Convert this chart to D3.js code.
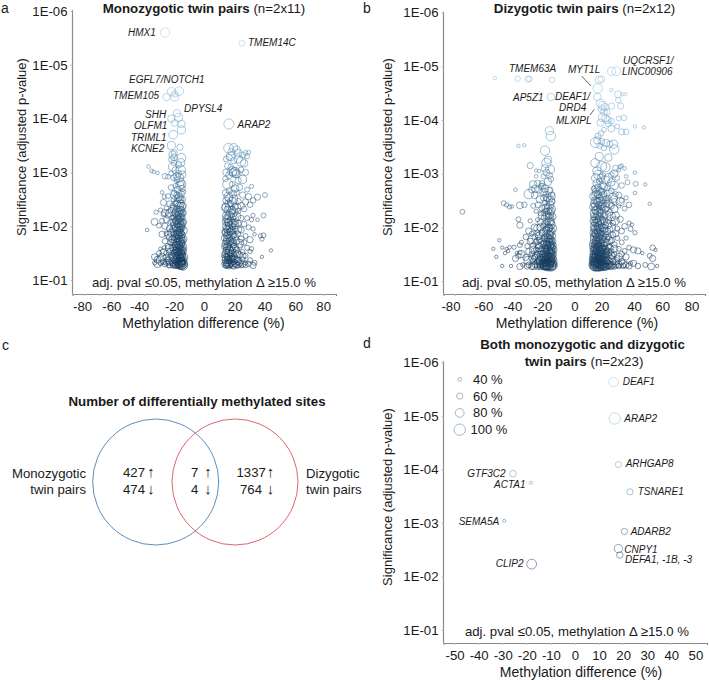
<!DOCTYPE html>
<html>
<head>
<meta charset="utf-8">
<script src="https://d3js.org/d3.v7.min.js"></script>
<style>
body { margin: 0; background: #fff; }
text { font-family: "Liberation Sans", Arial, sans-serif; fill: #1a1a1a; }
</style>
</head>
<body>
<svg id="fig" width="709" height="680"></svg>
<script>
"use strict";

// sites: [methylation difference %, -log10(adj. p), methylation size %]
var monoSites = [
[-26,5.6,85],[25.5,5.4,57],[-21.7,4.5,75],[-16.5,4.51,80],[-19.5,4.46,62],[-25,4.4,70],[-19.5,4.4,75],
[-18,4.1,70],[-21.7,4,70],[-17,4.02,75],[-19.5,3.92,65],[-15,3.9,70],[-15,3.79,75],[-20.5,3.7,80],[-21.7,3.5,75],[-16,3.47,60],[16.8,3.9,90],
[-21,3.33,70],[-20,3.28,65],[-21.5,3.24,60],[-15,3.27,80],[-20,3.18,55],[-21,3.1,75],[-17,3.14,60],[-15.5,3.05,85],[-19,3.04,65],[-22,2.98,50],
[-37,3.11,40],[-35,3.03,40],[-33.5,3.01,40],[-31,2.99,40],[-26,2.93,55],[-24,2.92,50],[-17,2.98,60],[-14.5,2.96,70],[-20,2.9,60],[-18,2.86,55],[-15.5,2.82,70],
[-16,2.76,75],[-19,2.75,50],[-22,2.72,55],[-14.5,2.7,60],[-17.5,2.68,65],[-13.8,2.64,50],[-20,2.62,55],[-15.5,2.6,70],[-28,2.63,40],[-26.5,2.55,45],[-24,2.56,50],
[-18,2.58,60],[-16.5,2.54,70],[-14.5,2.5,65],[-20,2.5,55],[-27,2.44,60],[-23,2.42,55],[-17,2.44,75],[-15.5,2.42,70],[-19,2.42,55],[-14,2.38,65],[-21,2.38,50],
[-25,2.33,50],[-16.5,2.36,80],[-18,2.33,60],[-32,2.26,45],[-29,2.3,45],[-22,2.3,55],[-15,2.3,65],[-17,2.27,70],[-19.5,2.24,65],[-13.8,2.25,60],[-27,2.22,50],
[-24,2.2,55],[-16,2.2,80],[-18,2.18,70],[-14.5,2.16,60],[-21,2.16,50],[-17,2.12,70],[-15.5,2.1,65],[-19,2.1,60],[-33,2.08,65],[-28,2.1,50],[-25,2.12,60],[-22.5,2.08,50],
[-13.8,2.08,65],[-16.5,2.06,75],[-18,2.04,60],[-20.5,2.03,55],[-15,2.02,70],[-30,2.01,50],[-26,2,60],[-17,1.98,70],[-14.5,1.97,60],[-19,1.97,65],[-23,1.96,60],
[-16,1.94,60],[-18,1.92,70],[-21,1.92,50],[-13.5,1.92,70],[-15.5,1.88,65],[-17.5,1.88,70],[-38,1.93,40],[-25,1.87,50],[-28,1.85,60],[-20,1.86,55],[-14.5,1.84,60],
[-16.5,1.82,70],[-18.5,1.82,55],[-23,1.8,60],[-15,1.78,65],[-17.5,1.77,70],[-13.8,1.76,70],[-20,1.75,60],[-26,1.72,55],[-22,1.7,60],[-16,1.72,70],[-18.5,1.7,65],
[-14.5,1.68,60],[-19.5,1.65,55],[-16.5,1.65,70],[-24,1.63,55],[-14,1.62,70],[-18,1.6,70],[-15.5,1.6,60],[-21,1.6,65],[-17,1.58,60],[-29,1.58,40],[-26.5,1.6,45],
[-19,1.55,60],[-15,1.55,70],[-13.8,1.54,65],[-16.5,1.53,65],[-22.5,1.53,60],[-18,1.51,65],[-25,1.5,55],[-20.5,1.5,60],[-15.5,1.49,70],[-30,1.5,50],[-14.5,1.47,65],
[-17,1.47,70],[-19,1.45,60],[-33,1.43,60],[-16,1.44,60],[-28,1.43,70],[-22,1.44,55],[-13.5,1.42,75],[-18,1.41,65],[-15,1.4,60],[-31,1.38,65],[-24,1.39,50],
[-20,1.38,60],[-16.5,1.37,65],[-14.5,1.35,70],[-27,1.34,55],[-18.5,1.34,60],[-23,1.33,60],[-15.5,1.33,70],[-21,1.31,55],[-17,1.3,65],[-13.8,1.3,80],[-19,1.28,60],
[-26,1.29,50],[-33,1.32,45],[-29,1.31,50],[-15,1.27,75],[-16.2,1.27,70],[-14,1.27,85],[-17.8,1.27,60],[-23.5,1.27,50],[-20.5,1.27,55],[-14.6,1.32,70],[-16,1.3,65],[-15.2,1.36,70],
[-14.5,1.5,60],[-16,1.62,60],[-17.5,1.52,65],[-15,1.7,65],[-18,1.77,60],[-16.5,1.92,65],[-15.5,2,70],[-17.5,2.16,60],[-16.5,2.25,75],[-15.5,1.43,70],[-17,1.36,60],
[-19.8,3.36,60],[-15.5,3.18,75],[-18,2.93,70],[-16.5,2.9,80],[-14.8,2.78,75],[-19.5,2.58,75],[-15.8,2.5,70],[-17.3,2.52,70],[-15.2,2.36,80],[-18.2,2.42,70],[-20.3,2.32,70],[-16,2.3,70],
[-18.5,2.26,75],[-14.8,2.24,70],[-17.2,2.2,65],[-15.7,2.16,70],[-19.7,2.16,60],[-23,2.25,70],[-26,2.25,65],[-16.4,2.13,65],[-18,2.1,70],[-20,2.08,70],[-14.6,2.06,70],[-17.3,2.03,65],
[-15.8,1.97,70],[-18.6,1.98,75],[-20.5,1.95,65],[-22,1.88,70],[-24,1.84,65],[-16.2,1.88,65],[-18.2,1.85,70],[-15,1.84,70],[-17,1.84,70],[-19.5,1.79,65],[-21,1.76,70],[-16.5,1.77,70],
[-14.5,1.74,65],[-17.5,1.72,65],[-20,1.7,65],[-15.5,1.66,70],[-17.2,1.65,70],[-18.8,1.63,70],[-23,1.58,75],[-27,1.52,65],[-20,1.56,65],[-16.2,1.57,65],[-14.5,1.58,70],[-17.8,1.55,70],
[-15.5,1.52,70],[-19.2,1.5,70],[-16.5,1.47,70],[-14.3,1.42,70],[-18,1.45,65],[-20.5,1.42,70],[-25,1.41,70],[-29,1.37,75],[-23,1.36,70],[-16,1.4,70],[-19,1.36,65],[-17.5,1.33,70],[-15,1.31,70],
[-13.8,1.36,70],[-16.8,1.29,70],[-18.5,1.28,70],[-20,1.31,70],[-22.5,1.28,60],[-25,1.33,60],[-31,1.3,70],[-14.6,1.28,80],[-15.6,1.29,80],[-15,1.34,70],
[20,3.46,75],[16.5,3.45,85],[18.5,3.38,65],[22,3.42,70],[23,3.36,70],[28,3.36,50],[30,3.37,45],[26,3.32,60],[29,3.3,50],[17,3.28,60],[15,3.25,55],[23,3.25,75],[20,3.22,60],
[27,3.17,70],[16,3.12,60],[18,3.1,55],[21,3.02,75],[19.5,3,70],[15,3,65],[22,2.98,80],[25,3.05,55],[28,3,60],[17,2.95,65],[14.5,2.88,55],[23,2.85,60],[26,2.87,75],
[16,2.78,90],[19,2.78,55],[21,2.7,70],[24,2.72,60],[32,2.74,45],[29,2.68,50],[17,2.66,60],[14.5,2.62,60],[19.5,2.6,70],[22,2.62,55],[26,2.58,60],[30,2.55,60],
[41,2.58,50],[36,2.54,60],[33,2.48,55],[17,2.52,70],[20,2.5,75],[15,2.48,65],[23,2.46,60],[28,2.45,60],[31,2.4,55],[25,2.38,65],[18,2.42,60],[14.5,2.36,70],[21,2.36,60],
[16,2.3,70],[19,2.3,70],[27,2.32,55],[23,2.28,55],[40,2.2,50],[33,2.2,45],[17,2.2,75],[15,2.2,70],[20,2.18,65],[25,2.15,55],[29,2.15,50],[36,2.12,40],[32,2.12,45],
[16,2.13,70],[18,2.1,70],[14.5,2.08,60],[21,2.08,60],[23,2.05,60],[27,2.04,55],[17,2.02,70],[15,2,70],[19,2,65],[30,1.98,50],[33,1.95,45],[21,1.95,55],[16,1.93,65],
[25,1.93,60],[18,1.9,70],[14,1.9,55],[23,1.86,55],[20,1.84,60],[15.5,1.83,65],[38,1.82,45],[40,1.83,50],[28,1.82,50],[34,1.85,40],[17,1.78,65],[13.8,1.78,60],[19,1.76,60],
[25,1.76,60],[39,1.76,45],[31,1.75,60],[22,1.73,65],[15,1.72,60],[27,1.7,55],[18,1.68,65],[20,1.65,60],[16,1.63,70],[14,1.62,60],[24,1.62,55],[29,1.6,50],[32,1.58,45],
[17,1.58,70],[22,1.56,60],[19,1.55,65],[15,1.55,60],[26,1.52,50],[31,1.53,45],[45,1.55,38],[21,1.5,65],[16.5,1.5,70],[18,1.47,60],[14,1.47,60],[24,1.47,60],[28,1.45,50],
[39,1.43,38],[20,1.43,65],[16,1.42,60],[22,1.38,60],[18,1.38,70],[14.5,1.37,65],[26,1.38,50],[31,1.37,50],[34,1.32,50],[20,1.34,60],[16,1.32,70],[24,1.32,60],[14.5,1.3,70],
[18,1.3,60],[22,1.28,60],[28,1.32,45],[17,1.27,65],[15,1.27,60],[20,1.27,70],[25,1.27,50],[30,1.3,55],[19,1.4,60],[17,1.36,60],[15.5,1.44,60],[17.5,1.9,65],[16.5,2.06,70],
[18,3.3,80],[25,3.2,85],[19,3.02,85],[20.5,3,85],[21.5,2.97,70],[16.5,2.55,80],[19,2.45,85],[22,2.35,75],[16.5,2.42,70],[17.5,2.35,80],[15,2.34,80],[18,2.24,75],[20,2.26,80],[22,2.18,75],
[15.5,2.14,75],[18.7,2.16,70],[16.5,2.08,70],[19.5,2.06,70],[21,2.02,70],[15.5,1.95,70],[17.2,1.96,70],[19,1.93,70],[23,1.94,70],[14.8,1.88,70],[16.5,1.86,70],[18.5,1.83,70],[21,1.8,65],
[15.7,1.77,70],[17.5,1.72,70],[19.5,1.7,70],[24,1.68,75],[14.7,1.67,70],[16.5,1.68,70],[18.2,1.62,75],[20.5,1.6,75],[15.5,1.6,70],[17.3,1.53,75],[19.2,1.5,70],[22.5,1.48,70],[26,1.45,65],
[15,1.5,70],[16.7,1.44,70],[18.5,1.42,70],[20.5,1.38,70],[14.7,1.42,70],[16.5,1.37,70],[18.7,1.33,70],[23,1.35,65],[15.2,1.33,70],[17,1.3,70],[19.5,1.29,70],[21,1.31,65],[15.8,1.29,70],[23,1.28,60],[28,1.28,55],[33,1.27,60],[26,1.3,65]
];

var dizSites = [
[-53,4.78,38],[-37.5,4.77,55],[-30.5,4.76,60],[-29.6,4.77,55],[-14.2,4.75,55],[-15,4.43,70],
[26.2,4.91,75],[29.4,4.91,80],[17.6,4.75,70],[19.2,4.76,65],[16.7,4.59,85],[16.5,4.43,70],[26,4.56,38],[30.5,4.48,65],[33.4,4.48,38],[35.7,4.48,38],[30.7,4.37,55],
[32.3,4.26,60],[26.2,4.26,60],[18.8,4.31,80],[20,4.27,75],[21.5,4.24,70],[19.5,4.2,70],[23,4.15,60],[21,4.15,65],[20,4.05,75],[22,4.03,70],[23.5,4,70],[26,3.98,55],
[31,4.03,50],[34.5,4.04,55],[18.5,3.95,65],[24,3.93,60],[30,3.88,50],[26,3.84,65],[33,3.78,60],[36,3.78,55],[42,3.88,38],[48,3.86,38],[21,3.82,50],[17,3.7,60],[19,3.75,55],
[16.5,3.62,70],[19.5,3.6,60],[22.5,3.57,70],[25,3.55,60],[27.5,3.55,75],[28,3.45,85],[21,3.48,55],[18,3.52,55],
[-16,3.8,75],[-15,3.7,85],[-19,3.43,85],[-37,3.52,38],[-33,3.53,38],[-29,3.15,60],[-19,3.1,70],[-18,3.02,65],[-16,2.97,60],[-20,2.95,50],[-23,3.05,38],[-25,3.06,38],
[24,3.3,70],[19.5,3.14,90],[29,3.1,60],[32,3.13,45],[31,3.07,45],[33,3.15,40],[35,3.1,40],[26,2.98,55],[17,2.98,80],[20,2.96,60],[42,3.02,38],
[-15,2.9,55],[-17,2.85,70],[-21,2.82,55],[-25,2.95,40],[36,2.95,40],[30,2.92,50],[22,2.88,75],[18,2.86,60],[16,2.82,70],[26,2.84,70],
[-27,2.8,70],[-24,2.82,60],[-21.5,2.77,50],[-28,2.7,60],[-23,2.7,65],[-19,2.72,70],[-15.5,2.7,55],[-30,2.62,85],[-26,2.6,65],[-18.5,2.62,55],[-13.8,2.62,45],[-39,2.7,40],[-18,2.53,50],
[37,2.84,50],[42.5,2.81,50],[33,2.78,55],[20,2.78,70],[17,2.74,65],[23,2.73,55],[14,2.72,50],[19,2.66,65],[26,2.68,55],[29,2.62,50],[31,2.6,60],[21,2.62,60],[15.5,2.6,75],[42,2.64,40],[49,2.8,38],[36,2.55,45],
[-16,2.52,60],[-14.2,2.48,60],[-19,2.46,50],[-23.5,2.42,60],[-27,2.4,50],[-33,2.42,55],[-36,2.41,65],[-47,2.45,50],[-45,2.42,45],[-43,2.38,45],[-41.5,2.39,40],[-15.5,2.42,70],[-17.5,2.4,55],[-21,2.36,60],
[24,2.55,55],[18,2.54,70],[16,2.5,65],[20,2.5,55],[28,2.48,60],[33,2.5,50],[38,2.42,55],[35,2.35,50],[31,2.4,45],[52,2.44,38],[23,2.44,60],[14.5,2.44,70],[17.5,2.42,65],[26,2.4,60],[20,2.38,70],[22,2.33,60],
[-75,2.29,50],[-18,2.3,60],[-15,2.3,70],[-22,2.26,50],[-25,2.3,45],[-16.5,2.2,65],[-19.5,2.18,55],[-13.8,2.2,65],[-37,2.15,50],[-24,2.14,45],[-29,2.12,45],[-15,2.1,70],[-17.5,2.1,60],[-22,2.1,60],[-36,2.04,60],[-26,2,65],[-20,2.03,55],[-15.5,2,60],[-17,1.97,75],[-13.6,1.98,70],
[15,2.32,70],[18,2.3,65],[25,2.28,60],[29,2.22,70],[16.5,2.22,70],[21,2.2,60],[14,2.2,60],[32,2.15,60],[24,2.14,60],[19,2.13,75],[17,2.1,65],[15,2.08,70],[27,2.08,55],[35,2.02,55],[38,2.08,45],[22,2.04,60],[20,2,70],[16.5,2,65],[30,1.98,50],[14,1.98,60],[25,1.96,60],
[39,1.97,50],[42,1.9,45],[40,2.05,40],[33,1.93,55],
[-30,1.93,60],[-28,1.88,50],[-24,1.9,55],[-21,1.9,60],[-18,1.88,65],[-15.5,1.86,70],[-13.8,1.84,60],[-26,1.83,55],[-32,1.82,55],[-19.5,1.8,65],[-17,1.8,70],[-14.8,1.76,65],[-22.5,1.77,55],[-29,1.74,60],[-35,1.72,45],[-25,1.72,60],
[17,1.92,70],[19,1.88,65],[15,1.87,70],[22,1.87,60],[27,1.86,55],[24,1.82,60],[14,1.83,65],[18,1.8,75],[20.5,1.78,70],[16,1.77,70],[30,1.8,50],[36,1.8,45],[26,1.75,60],[23,1.72,65],[15,1.7,65],[19,1.7,70],[17,1.7,70],[13.8,1.7,70],[33,1.72,50],[28,1.68,55],[21,1.66,65],
[-36,1.67,50],[-43,1.63,40],[-48,1.62,38],[-50,1.76,38],[-40,1.63,45],[-31,1.65,50],[-27,1.66,55],[-23,1.66,65],[-20,1.68,60],[-17.5,1.68,70],[-15.2,1.66,65],[-13.6,1.66,65],[-19,1.6,65],[-16.5,1.59,75],[-25,1.58,55],[-21.5,1.56,70],[-14.5,1.56,70],[-18,1.53,70],[-30,1.55,60],[-36,1.53,45],[-45,1.6,38],
[18,1.64,70],[16,1.62,70],[24,1.63,60],[20,1.6,70],[14.5,1.6,70],[31,1.6,50],[22,1.58,65],[17.5,1.56,75],[26,1.55,55],[19,1.54,70],[15.5,1.54,70],[38,1.62,50],[35,1.56,50],[41,1.58,60],[44,1.56,60],[54,1.62,55],[56,1.58,38],
[-46,1.52,40],[-44,1.56,38],[-38,1.52,40],[-28,1.5,55],[-24,1.5,65],[-20.5,1.5,65],[-16,1.5,75],[-13.8,1.5,70],[-18.5,1.46,70],[-15,1.46,70],[-22,1.44,60],[-26,1.44,60],[-32,1.44,60],[-35,1.5,70],[-37,1.47,55],[-39,1.42,60],[-54,1.6,38],[-52,1.45,38],
[21,1.5,70],[17,1.5,75],[14,1.5,70],[24,1.48,60],[28,1.5,55],[33,1.5,55],[19,1.46,70],[15.5,1.46,75],[22.5,1.44,65],[36,1.45,60],[30,1.42,55],[26,1.42,60],[47,1.52,38],[52,1.47,50],[54,1.42,60],[18,1.42,70],
[-48,1.28,38],[-42,1.28,38],[-34,1.3,45],[-30,1.3,55],[-27,1.37,60],[-24,1.36,60],[-20.5,1.38,65],[-17,1.38,75],[-14.5,1.38,70],[-19,1.33,70],[-22.5,1.32,65],[-15.5,1.33,75],[-13.5,1.33,70],[-17.8,1.3,75],[-25.5,1.3,60],[-28,1.27,60],[-36,1.27,60],
[20,1.38,75],[16,1.38,75],[13.8,1.38,75],[23,1.37,65],[27,1.36,60],[33,1.36,60],[41,1.33,60],[18,1.34,80],[21.5,1.32,70],[15,1.32,80],[25,1.31,60],[29,1.3,60],[38,1.28,60],[44,1.28,55],[39,1.33,45],[53,1.27,65],[57,1.28,38],[49,1.3,50],
[-14,1.28,75],[-16,1.28,80],[-18,1.27,70],[-20,1.28,70],[-22,1.27,65],[-24,1.27,60],[-15,1.27,85],[-17,1.27,80],[-19,1.27,70],[-13.8,1.42,70],[-16,1.42,75],[-18,1.42,70],[-15,1.54,70],[-17,1.62,70],[-16,1.72,70],
[14,1.28,80],[16,1.28,85],[18,1.27,80],[20,1.28,75],[22,1.27,70],[24,1.28,60],[26,1.27,60],[28,1.27,55],[31,1.28,55],[34,1.28,55],[15,1.27,85],[17,1.27,85],[19,1.27,80],[21,1.27,75],[23,1.27,65],
[14.5,1.34,80],[16.5,1.34,75],[19,1.36,75],[17,1.42,75],[15,1.42,75],[20.5,1.44,70],[16,1.56,70],[18.5,1.5,70],[15,1.62,75],[17,1.62,70],[19.5,1.62,65],[15.5,1.75,70],[17.5,1.76,70],[16,1.85,70],[18,1.98,70],[16,2.14,70],[18,2.2,70],[15,2.4,70],[16.5,2.36,65],[19,2.4,60],[15.5,2.66,70],[17,2.6,65],[18,1.4,75],[19,1.32,75],[17,1.32,80],[15,1.5,75],[16.5,1.68,70],[14,1.56,70],[22,1.5,65],[20,1.55,65],[23,1.56,60],[16,1.44,80],[21,1.4,70],[18,1.58,70],[14.5,1.44,75],
[-16,1.35,75],[-18,1.35,70],[-15,1.42,75],[-17,1.46,70],[-16,1.56,70],[-18,1.58,65],[-14.5,1.64,70],[-16,1.78,65],[-18,1.74,65],[-15.5,1.92,65],[-17,2.05,60],[-15,2.18,60],[-16.5,2.3,60],[-19,1.4,65],[-20,1.44,65],[-21,1.32,65],[-23,1.4,60],[-20,1.34,70],
[-18,3.2,85],[-17,3.26,70],[-15.5,3.08,80],[-21,2.76,65],[-20,2.66,70],[-25.5,2.72,70],[-16.5,2.68,70],[-14.5,2.58,70],[-17.5,2.55,70],[-15.3,2.5,75],[-19.8,2.55,65],[-22.5,2.52,70],[-18.5,2.36,70],[-16.8,2.34,75],[-15.8,2.25,75],[-14.4,2.34,70],[-17.8,2.22,70],[-19.2,2.28,65],[-21,2.22,70],[-16,2.12,75],[-18.8,2.06,70],[-14.6,2.05,70],[-22,2,70],[-24.2,1.98,70],[-16.4,2,70],[-18.2,1.95,70],[-20,1.9,75],[-14.6,1.92,70],[-23,1.84,70],[-16.5,1.86,75],[-27.5,1.78,80],[-18.7,1.8,70],[-15.7,1.78,70],[-21,1.72,75],[-13.8,1.74,65],[-24,1.75,65],[-17,1.72,75],[-19,1.68,75],[-15,1.69,75],[-22.8,1.62,75],[-27,1.58,70],[-16,1.66,75],[-18,1.64,75],[-20,1.6,75],[-14.8,1.6,75],[-17,1.56,80],[-19.5,1.53,75],[-23.5,1.55,70],[-15.8,1.52,80],[-13.7,1.58,75],[-21.5,1.48,75],[-17.5,1.48,80],[-25,1.46,70],[-14.6,1.48,80],[-19,1.42,80],[-16.7,1.44,80],[-22,1.38,75],[-27.5,1.42,65],[-30.5,1.38,75],[-15.5,1.38,80],[-17.5,1.35,80],[-20,1.3,75],[-13.8,1.37,80],[-24,1.32,70],[-16.5,1.31,85],[-19,1.29,80],[-22,1.3,70],[-26.5,1.28,70],[-15,1.3,85],[-13.6,1.29,80],[-31,1.28,60],[-18,1.3,85],[-17,1.3,85],[-16,1.36,85],[-18.5,1.38,80],
[15.2,3.58,90],[17.8,3.32,75],[15,3.2,80],[22,3.12,85],[16.2,3.05,75],[28,3,70],[24,2.92,80],[19,2.92,70],[15.5,2.92,80],[28,2.78,75],[21,2.76,70],[15.3,2.72,70],[18.2,2.68,70],[24,2.62,75],[16.8,2.62,70],[13.8,2.58,70],[20,2.58,75],[27,2.55,85],[32,2.48,75],[22.5,2.52,70],[18.5,2.48,75],[15,2.5,70],[17,2.46,75],[20.5,2.44,70],[24.5,2.44,75],[13.8,2.38,70],[16,2.32,75],[19,2.34,70],[22,2.38,75],[28,2.34,70],[17,2.26,80],[14.5,2.26,75],[19.5,2.26,75],[23,2.22,75],[26,2.2,75],[15.5,2.16,75],[18,2.14,80],[21,2.12,70],[28.5,2.12,75],[14,2.12,70],[16.5,2.08,75],[19,2.05,75],[23.5,2.05,75],[14.8,2.02,75],[17.5,2.03,75],[21,1.97,75],[26,2,75],[15.5,1.96,75],[17,1.95,75],[19,1.93,80],[23,1.93,70],[14,1.9,70],[15.8,1.89,75],[17.8,1.86,75],[20,1.84,80],[29,1.88,60],[22,1.8,75],[14.5,1.77,75],[17,1.82,80],[19,1.78,75],[24.5,1.76,70],[15.5,1.68,75],[18,1.72,80],[21,1.72,75],[14,1.64,75],[16.5,1.6,80],[19,1.58,80],[21.5,1.6,70],[25,1.62,65],[28,1.6,70],[15.5,1.58,75],[17.5,1.64,75],[14,1.44,75],[20,1.5,75],[24,1.54,70],[16,1.5,80],[18,1.52,80],[22.5,1.52,70],[15,1.4,85],[17.5,1.46,80],[19.5,1.42,80],[26,1.48,65],[31,1.45,70],[14.8,1.36,85],[17,1.36,85],[19,1.38,80],[21.5,1.36,75],[24,1.38,70],[29,1.37,70],[34,1.32,70],[16,1.33,90],[18,1.31,85],[20,1.32,85],[23,1.32,75],[27,1.3,65],[14,1.31,85],[15.5,1.29,90],[17,1.29,90],[19,1.3,85],[21,1.3,80],[25,1.29,70],[31,1.31,65],[36,1.3,60],[16.5,1.4,80],[18.5,1.44,80],[15.5,1.36,85],[17.5,1.33,85]
];

var bothSites = [
[16,5.63,85],[16.5,4.95,100],[18,4.09,60],[-25.8,3.92,63],[-18.3,3.75,35],[22.8,3.58,60],
[-29.4,3.04,35],[20.5,2.84,60],[18,2.52,75],[18.6,2.4,62],[-18,2.23,88]
];
var bothGenes = ["DEAF1","ARAP2","ARHGAP8","GTF3C2","ACTA1","TSNARE1","SEMA5A","ADARB2","CNPY1","DEFA1, -1B, -3","CLIP2"];

var legendSizes = [40, 60, 80, 100];
var pTicks = [1, 2, 3, 4, 5, 6];
var wideTicks = [-80, -60, -40, -20, 0, 20, 40, 60, 80];
var narrowTicks = [-50, -40, -30, -20, -10, 0, 10, 20, 30, 40, 50];
var vennMono = [427, 474], vennBoth = [7, 4], vennDiz = [1337, 764];

var svg = d3.select("#fig");

var sizeScale = d3.scaleLinear().domain([35, 100]).range([1.5, 5.7]);
// stroke goes from pale blue for the top hits to navy at the threshold
var colorScale = d3.scaleLinear().domain([1.27, 2.2, 3.2, 4.2, 5.6])
    .range(["#143a5e", "#2a5478", "#4f84aa", "#7fb3d6", "#a4cbe2"]);

function text(x, y, str, size, opts) {
    opts = opts || {};
    return svg.append("text").attr("x", x).attr("y", y).text(str)
        .style("font-size", size + "px")
        .style("font-style", opts.italic ? "italic" : null)
        .style("font-weight", opts.bold ? "bold" : null)
        .attr("text-anchor", opts.anchor || "start");
}

// builds one scatter panel, box = pixel frame of the axes
function panel(box, xDomain, xTicks, xMinor, sites, siteOpacity) {
    var x = d3.scaleLinear().domain(xDomain).range([box.left, box.right]);
    var y = d3.scaleLinear().domain([1, 6]).range([box.y1, box.y6]);

    var gx = svg.append("g").attr("transform", "translate(0," + box.bottom + ")")
        .call(d3.axisBottom(x).tickValues(xMinor).tickSize(2).tickPadding(6)
            .tickFormat(function (d) { return xTicks.indexOf(d) >= 0 ? d : ""; }));
    gx.select(".domain").attr("stroke", "#8a8a8a").attr("stroke-width", 1.2);
    gx.selectAll("line").attr("stroke", "#bbb");
    gx.selectAll("text").style("font-size", "13.2px")
        .attr("dx", function (d) { return xTicks.indexOf(d) >= 0 ? box.labelShift[xTicks.indexOf(d)] : 0; });

    var gy = svg.append("g").attr("transform", "translate(" + box.left + ",0)")
        .call(d3.axisLeft(y).tickValues(pTicks).tickSize(2).tickPadding(3)
            .tickFormat(function (d) { return "1E-0" + d; }));
    gy.select(".domain").attr("d", "M0," + box.bottom + "V" + (box.y6 - 1))
        .attr("stroke", "#8a8a8a").attr("stroke-width", 1.2);
    gy.selectAll("line").attr("stroke", "#bbb");
    gy.selectAll("text").style("font-size", "13.2px");

    svg.append("g").selectAll("circle").data(sites).enter().append("circle")
        .attr("cx", function (d) { return x(d[0]); })
        .attr("cy", function (d) { return y(d[1]); })
        .attr("r", function (d) { return sizeScale(d[2]); })
        .attr("fill", "none")
        .attr("stroke", function (d) { return colorScale(d[1]); })
        .attr("stroke-width", 0.75)
        .attr("stroke-opacity", siteOpacity);

    text(box.noteX, box.bottom - 7, "adj. pval \u22640.05, methylation \u0394 \u226515.0 %", 13.2, {anchor: "middle"});
    text(box.xLabelX, box.bottom + 34, "Methylation difference (%)", 14, {anchor: "middle"});
    svg.append("text").attr("transform", "translate(" + box.yLabelX + "," + box.yLabelY + ") rotate(-90)")
        .attr("text-anchor", "middle").style("font-size", "13px").text("Significance (adjusted p-value)");
    return {x: x, y: y};
}

panel({left: 72.5, right: 336, bottom: 294, y1: 280, y6: 11, noteX: 204, xLabelX: 203.5, yLabelX: 26, yLabelY: 147,
       labelShift: [-2.3, -3, -5, 0, 0, 1, 1, 2, 0]},
      [-88, 88.6], wideTicks, d3.range(-80, 81, 10), monoSites, 0.72);

panel({left: 443.5, right: 705, bottom: 294, y1: 281, y6: 12.7, noteX: 574, xLabelX: 577, yLabelX: 392, yLabelY: 147,
       labelShift: [-4.5, -1.3, -1.8, -1.3, 1.5, -1, 2, 0.7, 0.5]},
      [-87.8, 89.5], wideTicks, d3.range(-80, 81, 10), dizSites, 0.72);

panel({left: 443.5, right: 707, bottom: 643, y1: 630, y6: 362.3, noteX: 577, xLabelX: 581, yLabelX: 392, yLabelY: 497,
       labelShift: [0, 0, 0, 0, 0, 0, 0, 0, 0, 0, 0]},
      [-54.6, 54.8], narrowTicks, narrowTicks, bothSites, 0.75);

// panel letters
text(1, 12.7, "a", 14);
text(363, 13.4, "b", 14);
text(2, 350, "c", 14);
text(363, 348, "d", 14);

// panel titles, bold part then the plain part
function title(x, y, bold, plain) {
    var t = text(x, y, bold, 13.3, {bold: true, anchor: "middle"});
    if (plain) t.append("tspan").style("font-weight", "normal").text(" " + plain);
}
title(204, 13, "Monozygotic twin pairs", "(n=2x11)");
title(584.5, 13, "Dizygotic twin pairs", "(n=2x12)");
title(197, 406, "Number of differentially methylated sites");
title(582.5, 349, "Both monozygotic and dizygotic");
title(584, 366, "twin pairs", "(n=2x23)");

// gene labels of panel a
[["HMX1",128,36],["TMEM14C",248,46],["EGFL7/NOTCH1",129,83],["TMEM105",113,99],["SHH",145,118],["DPYSL4",184,112],
 ["OLFM1",134,129],["ARAP2",237.5,128],["TRIML1",131,141],["KCNE2",131,152]].forEach(function (l) {
    text(l[1], l[2], l[0], 10, {italic: true});
});
// gene labels of panel b
[["TMEM63A",509,72],["MYT1L",568,73],["UQCRSF1/",623,64],["LINC00906",622,75],["AP5Z1",513,101],["DEAF1/",555,100],["DRD4",559,111],["MLXIPL",556,124]].forEach(function (l) {
    text(l[1], l[2], l[0], 10, {italic: true});
});
svg.append("path").attr("d", "M581.7,76L591,86M590,115L594.3,109.3").attr("stroke", "#222").attr("stroke-width", 0.7).attr("fill", "none");

// gene labels of panel d, placed next to their circle
var bothLabelX = [622.7, 624.3, 625.7, 467.3, 494, 637.7, 458.7, 630.7, 624.3, 625, 495.7];
var bothLabelY = [385, 422.3, 467, 477, 487.7, 495, 524.7, 535.3, 552.7, 562.7, 567.3];
bothGenes.forEach(function (g, i) {
    text(bothLabelX[i], bothLabelY[i], g, 10, {italic: true});
});

// size legend of panel d
legendSizes.forEach(function (s, i) {
    var cy = 379.3 + i * 16.8;
    svg.append("circle").attr("cx", 459.7).attr("cy", cy).attr("r", sizeScale(s))
        .attr("fill", "none").attr("stroke", "#8ba4bb").attr("stroke-width", 0.8);
    text(i == 3 ? 470.5 : 473, cy + 4.5, s + " %", 13);
});

// venn diagram
svg.append("circle").attr("cx", 155.7).attr("cy", 482).attr("r", 63).attr("fill", "none").attr("stroke", "#5a8fc0").attr("stroke-width", 1);
svg.append("circle").attr("cx", 235).attr("cy", 482).attr("r", 63).attr("fill", "none").attr("stroke", "#df6672").attr("stroke-width", 1);
text(86, 477.5, "Monozygotic", 13.2, {anchor: "end"});
text(86, 494, "twin pairs", 13.2, {anchor: "end"});
text(306, 477.5, "Dizygotic", 13.2);
text(306, 494, "twin pairs", 13.2);

var arrows = ["\u2191", "\u2193"];
var vennRows = [477, 493.7];
function vennColumn(counts, numX, arrowX) {
    counts.forEach(function (c, i) {
        text(numX[i], vennRows[i], c, 13.2);
        text(arrowX, vennRows[i], arrows[i], 15, {anchor: "middle"});
    });
}
vennColumn(vennMono, [123, 123], 151);
vennColumn(vennBoth, [191, 191], 208);
vennColumn(vennDiz, [236.5, 240], 270.5);
</script>
</body>
</html>
